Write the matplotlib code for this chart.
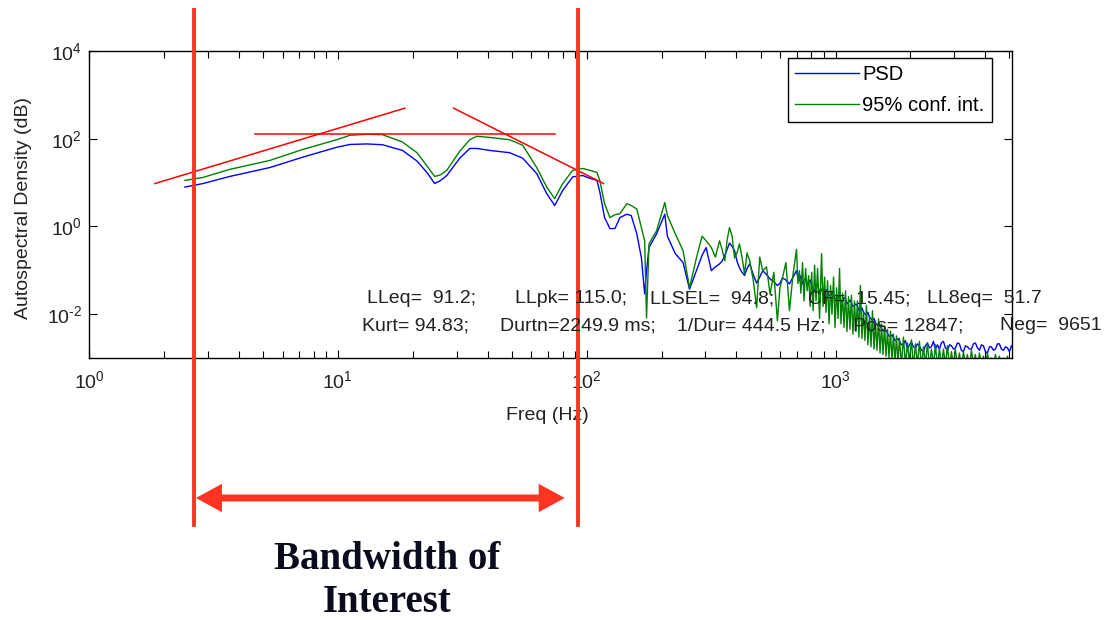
import matplotlib
matplotlib.use("Agg")
import matplotlib.pyplot as plt
from matplotlib.ticker import LogLocator, NullLocator, FixedLocator, FixedFormatter

# spectrum (Hz, PSD, upper 95% bound)
freq_hz = [
    2.43, 2.87, 3.68, 5.33, 7.23, 9.91, 11.2, 13.1, 15.1, 18.2,
    20.8, 22.8, 24.5, 25.9, 27.4, 30.9, 33.9, 36.2, 40.8, 49.0,
    55.3, 63.0, 69.1, 74.4, 80.1, 87.9, 96.4, 103, 110, 113,
    118, 124, 130, 136, 145, 151, 159, 166, 171, 174,
    178, 191, 206, 211, 227, 244, 259, 276, 291, 302,
    317, 329, 342, 350, 359, 367, 375, 384, 393, 402,
    411, 421, 431, 441, 452, 467, 482, 496, 510, 528,
    546, 565, 584, 598, 612, 632, 653, 675,
    697, 706, 716, 726, 737, 747, 758, 769, 780, 791,
    802, 813, 824, 835, 847, 863, 879, 891, 904, 916,
    929, 942, 955, 968, 982, 996, 1010, 1024, 1038, 1052,
    1067, 1082, 1097, 1112, 1128, 1143, 1159, 1175, 1192, 1208,
    1225, 1242, 1259, 1277, 1295, 1313, 1331, 1350, 1370, 1389,
    1408, 1428, 1448, 1468, 1489, 1510, 1531, 1552, 1574, 1596,
    1618, 1640, 1663, 1686, 1710, 1734, 1758, 1782, 1807, 1840,
    1875, 1910, 1946, 1982, 2019, 2057, 2095, 2134, 2174, 2215,
    2256, 2298, 2341, 2385, 2429, 2475, 2521, 2568, 2616, 2665,
    2714, 2765, 2817, 2870, 2923, 2978, 3033, 3090, 3147, 3206,
    3266, 3327, 3389, 3453, 3517, 3583, 3649, 3718, 3787, 3858,
    3930, 4004, 4078, 4155, 4232, 4312, 4392, 4474, 4557, 4643,
    4729, 4818, 4907, 4999, 5092]

psd_blue = [
    7.9, 9.5, 13.8, 22, 38, 64, 74, 76, 73, 54,
    31, 17, 9.5, 11.2, 14.5, 36, 60, 60, 54, 48,
    36, 16, 5.6, 3.0, 6.6, 13.5, 14.5, 12.5, 11.2, 6.0,
    1.6, 0.89, 0.9, 1.59, 1.9, 1.77, 0.68, 0.19, 0.029, 0.098,
    0.33, 0.68, 1.9, 0.6, 0.24, 0.15, 0.037, 0.098, 0.22, 0.33,
    0.098, 0.12, 0.14, 0.16, 0.22, 0.30, 0.42, 0.35, 0.28, 0.16,
    0.114, 0.09, 0.076, 0.11, 0.14, 0.08, 0.051, 0.07, 0.098, 0.08,
    0.063, 0.055, 0.045, 0.05, 0.067, 0.06, 0.049, 0.07,
    0.098, 0.07, 0.058, 0.075, 0.049, 0.06, 0.063, 0.045, 0.052, 0.06,
    0.045, 0.038, 0.034, 0.046, 0.045, 0.033, 0.037, 0.028, 0.030, 0.036,
    0.034, 0.027, 0.026, 0.031, 0.028, 0.022, 0.023, 0.027, 0.026, 0.019,
    0.020, 0.024, 0.022, 0.017, 0.019, 0.021, 0.018, 0.015, 0.016, 0.017,
    0.015, 0.012, 0.012, 0.014, 0.011, 0.010, 0.0095, 0.011, 0.0085, 0.0078,
    0.0072, 0.0080, 0.0062, 0.0058, 0.0052, 0.0056, 0.0046, 0.0042, 0.0040, 0.0043,
    0.0036, 0.0032, 0.0031, 0.0034, 0.0029, 0.0025, 0.0026, 0.0028, 0.0024, 0.0020,
    0.0021, 0.0025, 0.0016, 0.0020, 0.0023, 0.0018, 0.0017, 0.0021, 0.0019, 0.0015,
    0.0014, 0.0019, 0.0022, 0.0017, 0.0018, 0.0024, 0.0016, 0.0020, 0.0016, 0.0022,
    0.0024, 0.0017, 0.0015, 0.0020, 0.0019, 0.0016, 0.0017, 0.0022, 0.0021, 0.0015,
    0.0014, 0.0019, 0.0018, 0.0016, 0.0016, 0.0021, 0.0022, 0.0017, 0.0015, 0.0020,
    0.0019, 0.0014, 0.0013, 0.0018, 0.0018, 0.0015, 0.0016, 0.0021, 0.0021, 0.0016,
    0.0015, 0.0018, 0.0017, 0.0014, 0.0019]

conf_green = [
    11.2, 13.1, 20, 32, 57, 95, 120, 126, 124, 84,
    48, 24, 13.8, 15, 19, 52, 95, 114, 107, 95,
    71, 22, 7.9, 4.3, 9.5, 19, 21, 19, 17, 11,
    3.3, 1.6, 1.85, 1.95, 3.3, 3.0, 2.5, 0.94, 0.47, 0.0082,
    0.40, 0.80, 3.5, 1.77, 0.68, 0.28, 0.04, 0.19, 0.6, 0.47,
    0.33, 0.2, 0.47, 0.3, 0.165, 0.5, 0.94, 0.6, 0.19, 0.25,
    0.40, 0.2, 0.083, 0.25, 0.165, 0.06, 0.014, 0.2, 0.098, 0.12,
    0.028, 0.09, 0.007, 0.04, 0.067, 0.15, 0.012, 0.08,
    0.30, 0.05, 0.098, 0.03, 0.15, 0.020, 0.11, 0.034, 0.075, 0.015,
    0.09, 0.012, 0.13, 0.02, 0.11, 0.008, 0.24, 0.015, 0.07, 0.011,
    0.058, 0.006, 0.045, 0.010, 0.07, 0.005, 0.04, 0.008, 0.11, 0.006,
    0.03, 0.005, 0.034, 0.004, 0.025, 0.0045, 0.027, 0.0035, 0.02, 0.004,
    0.02, 0.003, 0.045, 0.0028, 0.012, 0.0025, 0.016, 0.002, 0.009, 0.0018,
    0.012, 0.0016, 0.007, 0.0015, 0.0078, 0.0013, 0.006, 0.0012, 0.0054, 0.0011,
    0.0045, 0.0010, 0.0041, 0.0009, 0.0035, 0.0008, 0.0032, 0.0008, 0.0028, 0.0007,
    0.0030, 0.0007, 0.0022, 0.0008, 0.0026, 0.0006, 0.0021, 0.0007, 0.0024, 0.0006,
    0.0018, 0.0007, 0.0022, 0.0006, 0.0016, 0.0007, 0.0020, 0.0006, 0.0017, 0.0006,
    0.0016, 0.0007, 0.0019, 0.0006, 0.0014, 0.0007, 0.0016, 0.0006, 0.0013, 0.0006,
    0.0014, 0.0007, 0.0012, 0.0006, 0.0015, 0.0007, 0.0012, 0.0006, 0.0013, 0.0007,
    0.0011, 0.0006, 0.0013, 0.0007, 0.0010, 0.0006, 0.0012, 0.0007, 0.0011, 0.0006,
    0.0010, 0.0006, 0.0011, 0.0007, 0.0009]

# hand-drawn red slope lines (Hz, value)
rise_f, rise_v = [1.84, 18.6], [9.5, 497]
flat_f, flat_v = [4.64, 74.4], [131, 131]
fall_f, fall_v = [29.2, 117], [497, 9.5]

# bandwidth of interest
band_lo, band_hi = 2.64, 92.0
arrow_lo, arrow_hi = 2.69, 81.6

x_ticks = [1, 10, 100, 1000]
x_tick_labels = ["$10^{0}$", "$10^{1}$", "$10^{2}$", "$10^{3}$"]
y_ticks = [1e-2, 1, 1e2, 1e4]
y_tick_labels = ["$10^{\u20102}$", "$10^{0}$", "$10^{2}$", "$10^{4}$"]

stats_line1 = [("LLeq=  91.2;", 367), ("LLpk= 115.0;", 515), ("LLSEL=  94.8;", 650),
               ("CF=  15.45;", 808), ("LL8eq=  51.7", 927)]
stats_line2 = [("Kurt= 94.83;", 362), ("Durtn=2249.9 ms;", 500), ("1/Dur= 444.5 Hz;", 677),
               ("Pos= 12847;", 853), ("Neg=  9651", 1000)]

plt.rcParams["font.family"] = ["Liberation Sans", "DejaVu Sans"]
plt.rcParams["mathtext.fontset"] = "custom"
plt.rcParams["mathtext.rm"] = "Liberation Sans"
plt.rcParams["mathtext.it"] = "Liberation Sans:italic"
plt.rcParams["mathtext.default"] = "regular"

W, H = 1105, 620
fig = plt.figure(figsize=(W / 100, H / 100), dpi=100)
ax = fig.add_axes([89 / W, 1 - 358 / H, (1012 - 89) / W, (358 - 51) / H])

ax.plot(freq_hz, psd_blue, color="#0000ff", lw=1.0, label="PSD")
ax.plot(freq_hz, conf_green, color="#008000", lw=1.0, label="95% conf. int.")

ax.set_xscale("log")
ax.set_yscale("log")
ax.set_xlim(1, 5120)
ax.set_ylim(1e-3, 1e4)

ax.xaxis.set_major_locator(FixedLocator(x_ticks))
ax.xaxis.set_major_formatter(FixedFormatter(x_tick_labels))
ax.xaxis.set_minor_locator(LogLocator(base=10, subs=range(2, 10), numticks=20))
ax.yaxis.set_major_locator(FixedLocator(y_ticks))
ax.yaxis.set_major_formatter(FixedFormatter(y_tick_labels))
ax.yaxis.set_minor_locator(NullLocator())
ax.tick_params(which="both", direction="in", top=True, right=True, labelsize=14,
               width=0.8, labelcolor="#222222")
ax.tick_params(axis="x", which="major", length=6, pad=9)
ax.tick_params(axis="y", which="major", length=6, pad=5)
ax.tick_params(which="minor", length=5)
for s in ax.spines.values():
    s.set_linewidth(1.0)

ax.set_xlabel("Freq (Hz)", fontsize=14, color="#222222")
ax.set_ylabel("Autospectral Density (dB)", fontsize=14, color="#222222")
ax.xaxis.set_label_coords(0.497, -0.158)
ax.yaxis.set_label_coords(-0.062, 0.49)

leg = ax.legend(loc="upper right", bbox_to_anchor=(0.978, 0.977), borderaxespad=0,
                fontsize=14.5, frameon=True, fancybox=False, framealpha=1,
                edgecolor="black", handlelength=3.2, handletextpad=0.15,
                borderpad=0.35, labelspacing=0.6)
leg.get_frame().set_linewidth(1.0)

# slope annotations
ax.plot(rise_f, rise_v, color="red", lw=1.1, zorder=5)
ax.plot(flat_f, flat_v, color="red", lw=1.1, zorder=5)
ax.plot(fall_f, fall_v, color="red", lw=1.1, zorder=5)

# statistics text over the plot
for txt, x in stats_line1:
    fig.text(x / W, 1 - 299 / H, txt, fontsize=14, va="center", ha="left", color="#222222")
for txt, x in stats_line2:
    fig.text(x / W, 1 - 326 / H, txt, fontsize=14, va="center", ha="left", color="#222222")

# bandwidth lines and arrow
bw_red = "#ff3322"
for f in (band_lo, band_hi):
    ax.axvline(f, ymin=(358 - 525) / 307, ymax=(358 - 10) / 307, color=bw_red,
               lw=2.8, clip_on=False, zorder=10)
ax.annotate("", xy=(arrow_hi, -0.456), xytext=(arrow_lo, -0.456),
            xycoords=("data", "axes fraction"), textcoords=("data", "axes fraction"),
            annotation_clip=False,
            arrowprops=dict(arrowstyle="<|-|>,head_length=0.55,head_width=0.3",
                            lw=5, color=bw_red, mutation_scale=20,
                            shrinkA=0, shrinkB=0, joinstyle="miter", capstyle="butt"))

fig.text(387 / W, 1 - 581 / H, "Bandwidth of\nInterest", ha="center", va="center",
         fontsize=28, fontweight="bold", family="Liberation Serif",
         linespacing=1.2, color="#0b0b1e")

fig.savefig("out.png", dpi=100)
